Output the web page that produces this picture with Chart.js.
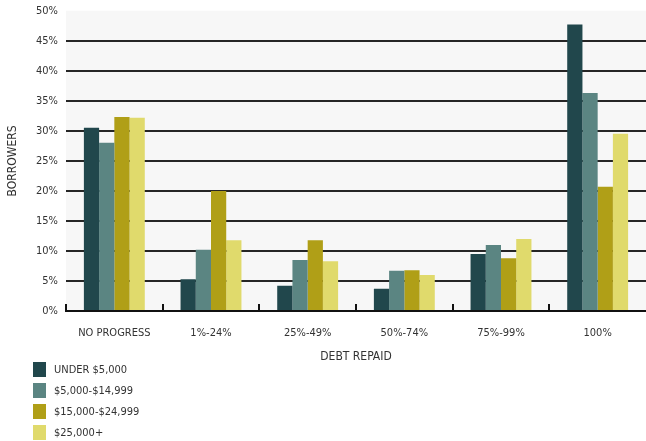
<!DOCTYPE html>
<html>
<head>
<meta charset="utf-8">
<script src="https://cdn.jsdelivr.net/npm/chart.js@4/dist/chart.umd.min.js"></script>
<style>
    html, body { margin: 0; padding: 0; background: #fff; }
    #wrap { position: relative; width: 646px; height: 441px; }
    #legend {
        position: absolute; left: 33px; top: 359px;
        font: 11px "DejaVu Sans Condensed", "Liberation Sans Narrow", "Open Sans", sans-serif;
        color: #333;
    }
    .legend-row { display: flex; align-items: center; height: 21px; }
    .legend-box { width: 13px; height: 15px; margin-right: 8px; }
</style>
</head>
<body>
<div id="wrap">
    <canvas id="debtChart" width="646" height="441"></canvas>
    <div id="legend"></div>
</div>
<script>
const categories = ['NO PROGRESS', '1%-24%', '25%-49%', '50%-74%', '75%-99%', '100%'];
const seriesNames = ['UNDER $5,000', '$5,000-$14,999', '$15,000-$24,999', '$25,000+'];
const seriesColors = ['#21474c', '#5b8582', '#b09f17', '#e0da6c'];

// share of borrowers (%) per repayment bucket
const under5k = [30.5, 5.3, 4.2, 3.7, 9.5, 47.7];
const from5kTo15k = [28.0, 10.2, 8.5, 6.7, 11.0, 36.3];
const from15kTo25k = [32.3, 20.0, 11.8, 6.8, 8.8, 20.7];
const over25k = [32.2, 11.8, 8.3, 6.0, 12.0, 29.5];

const yTicks = [0, 5, 10, 15, 20, 25, 30, 35, 40, 45, 50];

const fontFamily = '"DejaVu Sans Condensed", "Liberation Sans Narrow", "Open Sans", sans-serif';
const textColor = '#333';

// plot background plus the short inward ticks between categories
const plotDecor = {
    id: 'plotDecor',
    beforeDraw(chart) {
        const { ctx, chartArea } = chart;
        ctx.save();
        ctx.fillStyle = '#f7f7f7';
        ctx.fillRect(chartArea.left, chartArea.top, chartArea.right - chartArea.left, chartArea.bottom - chartArea.top);
        ctx.restore();
    },
    afterDatasetsDraw(chart) {
        const { ctx, chartArea, scales } = chart;
        const x = scales.x;
        const step = x.getPixelForValue(1) - x.getPixelForValue(0);
        ctx.save();
        ctx.strokeStyle = '#111';
        ctx.lineWidth = 2;
        for (let i = 0; i < categories.length; i++) {
            const px = Math.round(x.getPixelForValue(i) - step / 2);
            ctx.beginPath();
            ctx.moveTo(px, chartArea.bottom);
            ctx.lineTo(px, chartArea.bottom - 7);
            ctx.stroke();
        }
        ctx.restore();
    }
};

const datasets = [under5k, from5kTo15k, from15kTo25k, over25k].map((data, i) => ({
    label: seriesNames[i],
    data: data,
    backgroundColor: seriesColors[i],
    borderWidth: 0,
    categoryPercentage: 0.63,
    barPercentage: 1.0
}));

const chart = new Chart(document.getElementById('debtChart'), {
    type: 'bar',
    data: { labels: categories, datasets },
    options: {
        responsive: false,
        animation: false,
        layout: { padding: { top: 10, right: 0, bottom: 75, left: 0 } },
        plugins: {
            legend: { display: false },
            tooltip: { enabled: false }
        },
        scales: {
            x: {
                grid: { display: false, drawTicks: false },
                border: { display: true, color: '#111', width: 2 },
                ticks: {
                    padding: 16,
                    color: textColor,
                    font: { family: fontFamily, size: 11 },
                    maxRotation: 0
                },
                title: {
                    display: true,
                    text: 'DEBT REPAID',
                    color: textColor,
                    font: { family: fontFamily, size: 12 },
                    padding: { top: 8, bottom: 2 }
                },
                afterFit(scale) { scale.height = 55; }
            },
            y: {
                min: 0,
                max: 50,
                afterBuildTicks(scale) { scale.ticks = yTicks.map(v => ({ value: v })); },
                grid: {
                    drawTicks: false,
                    lineWidth: 2,
                    color: ctx => (ctx.tick && (ctx.tick.value === 0 || ctx.tick.value === 50)) ? 'rgba(0,0,0,0)' : '#262626'
                },
                border: { display: false },
                ticks: {
                    padding: 8,
                    color: textColor,
                    // small line height keeps the top label from pushing the plot down
                    font: { family: fontFamily, size: 11, lineHeight: 0.5 },
                    callback: v => v + '%'
                },
                title: {
                    display: true,
                    text: 'BORROWERS',
                    color: textColor,
                    font: { family: fontFamily, size: 12 },
                    padding: { top: 6, bottom: 0 }
                },
                afterFit(scale) { scale.width = 66; }
            }
        }
    },
    plugins: [plotDecor]
});

// legend list under the axis title
const legendEl = document.getElementById('legend');
legendEl.innerHTML = chart.data.datasets.map(ds => `
    <div class="legend-row">
        <span class="legend-box" style="background:${ds.backgroundColor}"></span>
        <span>${ds.label}</span>
    </div>
`).join('');
</script>
</body>
</html>
